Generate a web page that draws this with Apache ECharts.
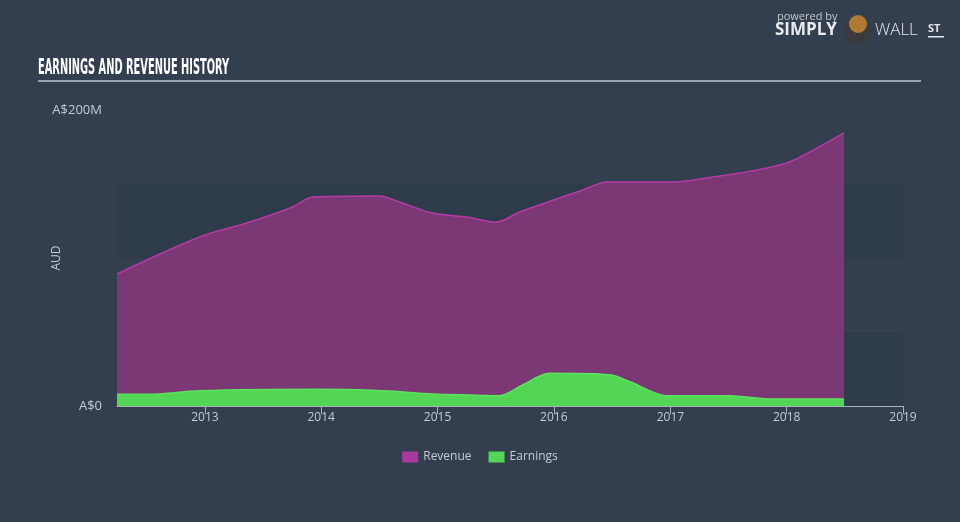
<!DOCTYPE html>
<html>
<head>
<meta charset="utf-8">
<script src="https://cdn.jsdelivr.net/npm/echarts@6/dist/echarts.min.js"></script>
<style>
html,body{margin:0;padding:0;background:#333f4f;}
#chart{width:960px;height:522px;}
</style>
</head>
<body>
<div id="chart"></div>
<script>
var revenueDates = ['2012-03-31','2012-12-15','2013-05-22','2013-10-03','2013-12-05','2014-07-03','2014-09-04','2014-12-16','2015-04-03','2015-07-06','2015-09-16','2016-04-01','2016-06-16','2017-01-09','2017-05-15','2017-08-08','2017-12-10','2018-02-12','2018-06-30'];
var revenueValues = [89.2,114.2,124.3,134.5,141.2,141.9,137.8,130.4,127.7,124.3,131.1,146.0,151.4,151.4,154.7,157.4,162.8,168.2,184.5];
var earningsDates = ['2012-03-31','2012-07-11','2012-12-15','2013-12-18','2014-07-13','2014-12-16','2015-04-13','2015-07-15','2015-09-25','2015-12-18','2016-06-25','2016-08-27','2016-12-20','2017-07-06','2017-11-09','2018-06-30'];
var earningsValues = [7.9,7.9,10.3,11.3,10.3,8.1,7.4,7.0,14.2,22.1,21.1,16.4,7.0,7.0,4.7,4.7];
var seriesNames = ['Revenue','Earnings'];
var yTickLabels = {0:'A$0',200:'A$200M'};

function pairs(d, v){ return d.map(function(x,i){ return [x, v[i]]; }); }

var chart = echarts.init(document.getElementById('chart'), null, {renderer:'canvas'});
var labelColor = '#c5cad0';
var font = '"Open Sans", sans-serif';
chart.setOption({
  backgroundColor: '#333f4f',
  animation: false,
  grid: {left:117, right:57, top:110, bottom:116},
  legend: {
    data: seriesNames,
    bottom: 54,
    left: 'center',
    itemWidth: 16, itemHeight: 11, itemGap: 17,
    icon: 'rect',
    textStyle: {color: labelColor, fontSize: 12, fontFamily: font}
  },
  xAxis: {
    type: 'time',
    min: '2012-03-31',
    max: '2019-01-01',
    splitNumber: 7,
    axisLine: {lineStyle: {color: '#aab2bb', width: 1}},
    axisTick: {show: true, length: 8, lineStyle: {color: '#aab2bb'}},
    axisLabel: {color: labelColor, fontSize: 12, fontFamily: font, formatter: '{yyyy}', margin: 6, showMaxLabel: true, hideOverlap: false},
    splitLine: {show: false}
  },
  yAxis: {
    type: 'value',
    min: 0, max: 200, interval: 50,
    name: 'AUD',
    nameLocation: 'middle',
    nameGap: 54,
    nameMoveOverlap: false,
    nameTextStyle: {color: labelColor, fontSize: 12, fontFamily: font},
    axisLine: {show: false},
    axisTick: {show: false},
    axisLabel: {color: labelColor, fontSize: 13, fontFamily: font, margin: 15,
      formatter: function(v){ return yTickLabels[v] || ''; }},
    splitLine: {show: false},
    splitArea: {show: true, areaStyle: {color: ['#2e3b4a', 'rgba(0,0,0,0)']}}
  },
  series: [
    {
      name: seriesNames[0], type: 'line', data: pairs(revenueDates, revenueValues),
      smooth: 0.3, showSymbol: false, symbol: 'none',
      itemStyle: {color: '#a9399c'},
      lineStyle: {color: '#b43ba6', width: 1.5},
      areaStyle: {color: '#7b3874', opacity: 1}
    },
    {
      name: seriesNames[1], type: 'line', data: pairs(earningsDates, earningsValues),
      smooth: 0.3, showSymbol: false, symbol: 'none',
      itemStyle: {color: '#53d655'},
      lineStyle: {color: '#5be35d', width: 1.5},
      areaStyle: {color: '#53d655', opacity: 1}
    }
  ],
  graphic: [
    {type:'text', x:38, y:57, scaleX:0.497, style:{text:'EARNINGS AND REVENUE HISTORY', fill:'#ffffff', font:'bold 22px "Liberation Sans Narrow", "DejaVu Sans Condensed", sans-serif'}},
    {type:'rect', shape:{x:38, y:80, width:883, height:2}, style:{fill:'#9aa3ad'}},
    {type:'text', x:777, y:11, style:{text:'powered by', fill:'#c3c8ce', font:'11px "Open Sans", sans-serif'}},
    {type:'text', x:775, y:22, style:{text:'SIMPLY', fill:'#e8eaec', font:'bold 17px "Open Sans", sans-serif'}},
    {type:'circle', shape:{cx:858, cy:32, r:13}, style:{fill:'#3b3a3c'}},
    {type:'circle', shape:{cx:858, cy:24, r:9}, style:{fill:'#b07a34'}},
    {type:'text', x:875, y:22, style:{text:'WALL', fill:'#e3e6e9', font:'300 17px "Open Sans", sans-serif'}},
    {type:'text', x:928, y:23, style:{text:'ST', fill:'#e3e6e9', font:'bold 11px "Open Sans", sans-serif'}},
    {type:'rect', shape:{x:928, y:36, width:16, height:1.5}, style:{fill:'#e3e6e9'}}
  ]
});
</script>
</body>
</html>
